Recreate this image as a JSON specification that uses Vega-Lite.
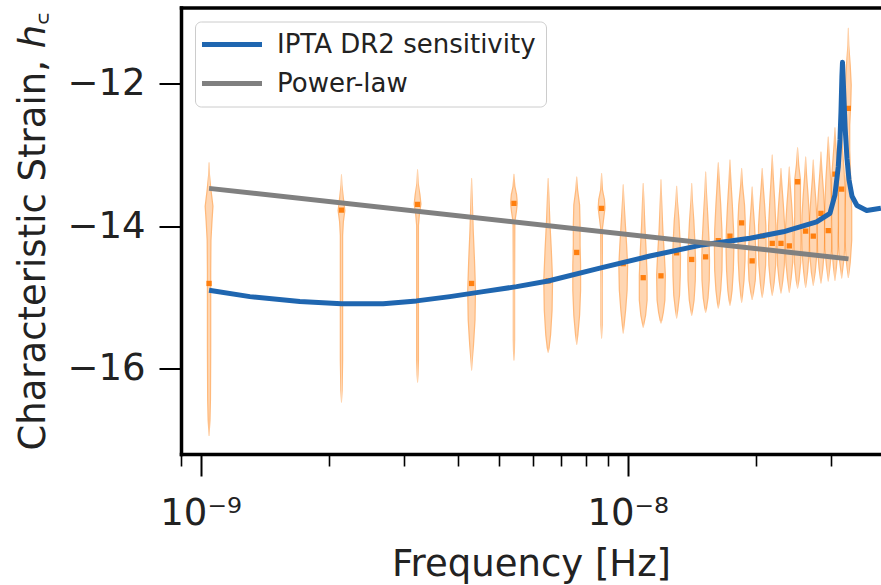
{
  "$schema": "https://vega.github.io/schema/vega-lite/v6.json",
  "width": 700,
  "height": 446.5,
  "autosize": {"type": "none"},
  "padding": {"left": 181, "top": 7.5, "right": 0, "bottom": 131},
  "background": "white",
  "config": {
    "view": {"stroke": null},
    "font": "DejaVu Sans",
    "axis": {"labelFont": "DejaVu Sans", "titleFont": "DejaVu Sans", "grid": false, "labelColor": "#222222", "titleColor": "#222222", "titleFontWeight": "normal", "tickColor": "#000000", "domainColor": "#000000"}
  },
  "datasets": {
    "violins": [
      {"i":1,"f":1.047e-9,"h":-13.11,"w":0},{"i":1,"f":1.047e-9,"h":-13.28,"w":2},{"i":1,"f":1.047e-9,"h":-13.49,"w":5},{"i":1,"f":1.047e-9,"h":-13.72,"w":9},{"i":1,"f":1.047e-9,"h":-13.94,"w":7},{"i":1,"f":1.047e-9,"h":-14.20,"w":5},{"i":1,"f":1.047e-9,"h":-14.62,"w":4.5},{"i":1,"f":1.047e-9,"h":-15.04,"w":4.5},{"i":1,"f":1.047e-9,"h":-15.74,"w":4.5},{"i":1,"f":1.047e-9,"h":-16.44,"w":4},{"i":1,"f":1.047e-9,"h":-16.73,"w":3},{"i":1,"f":1.047e-9,"h":-16.94,"w":0},
      {"i":2,"f":2.138e-9,"h":-13.28,"w":0},{"i":2,"f":2.138e-9,"h":-13.42,"w":2},{"i":2,"f":2.138e-9,"h":-13.61,"w":5},{"i":2,"f":2.138e-9,"h":-13.78,"w":8},{"i":2,"f":2.138e-9,"h":-13.94,"w":5},{"i":2,"f":2.138e-9,"h":-14.13,"w":3.5},{"i":2,"f":2.138e-9,"h":-15.04,"w":3.5},{"i":2,"f":2.138e-9,"h":-15.88,"w":3.5},{"i":2,"f":2.138e-9,"h":-16.30,"w":2.5},{"i":2,"f":2.138e-9,"h":-16.47,"w":0},
      {"i":3,"f":3.222e-9,"h":-13.21,"w":0},{"i":3,"f":3.222e-9,"h":-13.40,"w":2.5},{"i":3,"f":3.222e-9,"h":-13.56,"w":6},{"i":3,"f":3.222e-9,"h":-13.69,"w":8},{"i":3,"f":3.222e-9,"h":-13.83,"w":5},{"i":3,"f":3.222e-9,"h":-13.99,"w":3},{"i":3,"f":3.222e-9,"h":-15.04,"w":3},{"i":3,"f":3.222e-9,"h":-15.88,"w":3},{"i":3,"f":3.222e-9,"h":-16.09,"w":2},{"i":3,"f":3.222e-9,"h":-16.19,"w":0},
      {"i":4,"f":4.312e-9,"h":-13.33,"w":0},{"i":4,"f":4.312e-9,"h":-13.63,"w":2.5},{"i":4,"f":4.312e-9,"h":-14.06,"w":4.5},{"i":4,"f":4.312e-9,"h":-14.48,"w":7},{"i":4,"f":4.312e-9,"h":-14.90,"w":9},{"i":4,"f":4.312e-9,"h":-15.32,"w":8},{"i":4,"f":4.312e-9,"h":-15.67,"w":5},{"i":4,"f":4.312e-9,"h":-15.88,"w":2.5},{"i":4,"f":4.312e-9,"h":-16.02,"w":0},
      {"i":5,"f":5.418e-9,"h":-13.27,"w":0},{"i":5,"f":5.418e-9,"h":-13.44,"w":3},{"i":5,"f":5.418e-9,"h":-13.56,"w":6.5},{"i":5,"f":5.418e-9,"h":-13.68,"w":8},{"i":5,"f":5.418e-9,"h":-13.80,"w":6},{"i":5,"f":5.418e-9,"h":-13.94,"w":3},{"i":5,"f":5.418e-9,"h":-14.76,"w":2.5},{"i":5,"f":5.418e-9,"h":-15.60,"w":2.5},{"i":5,"f":5.418e-9,"h":-15.77,"w":2},{"i":5,"f":5.418e-9,"h":-15.88,"w":0},
      {"i":6,"f":6.516e-9,"h":-13.33,"w":0},{"i":6,"f":6.516e-9,"h":-13.56,"w":2.5},{"i":6,"f":6.516e-9,"h":-13.92,"w":4.5},{"i":6,"f":6.516e-9,"h":-14.34,"w":7.5},{"i":6,"f":6.516e-9,"h":-14.76,"w":10},{"i":6,"f":6.516e-9,"h":-15.18,"w":9},{"i":6,"f":6.516e-9,"h":-15.53,"w":6},{"i":6,"f":6.516e-9,"h":-15.71,"w":3},{"i":6,"f":6.516e-9,"h":-15.77,"w":0},
      {"i":7,"f":7.599e-9,"h":-13.31,"w":0},{"i":7,"f":7.599e-9,"h":-13.49,"w":3},{"i":7,"f":7.599e-9,"h":-13.70,"w":7},{"i":7,"f":7.599e-9,"h":-13.99,"w":8},{"i":7,"f":7.599e-9,"h":-14.27,"w":8},{"i":7,"f":7.599e-9,"h":-14.55,"w":9},{"i":7,"f":7.599e-9,"h":-14.90,"w":9},{"i":7,"f":7.599e-9,"h":-15.25,"w":7},{"i":7,"f":7.599e-9,"h":-15.53,"w":3.5},{"i":7,"f":7.599e-9,"h":-15.66,"w":0},
      {"i":8,"f":8.69e-9,"h":-13.26,"w":0},{"i":8,"f":8.69e-9,"h":-13.49,"w":3},{"i":8,"f":8.69e-9,"h":-13.63,"w":7},{"i":8,"f":8.69e-9,"h":-13.75,"w":8},{"i":8,"f":8.69e-9,"h":-13.86,"w":6},{"i":8,"f":8.69e-9,"h":-14.03,"w":3},{"i":8,"f":8.69e-9,"h":-14.90,"w":2.5},{"i":8,"f":8.69e-9,"h":-15.39,"w":2.5},{"i":8,"f":8.69e-9,"h":-15.57,"w":0},
      {"i":9,"f":9.766e-9,"h":-13.42,"w":0},{"i":9,"f":9.766e-9,"h":-13.63,"w":2.5},{"i":9,"f":9.766e-9,"h":-13.92,"w":5},{"i":9,"f":9.766e-9,"h":-14.27,"w":8},{"i":9,"f":9.766e-9,"h":-14.55,"w":10},{"i":9,"f":9.766e-9,"h":-14.90,"w":9},{"i":9,"f":9.766e-9,"h":-15.18,"w":6},{"i":9,"f":9.766e-9,"h":-15.39,"w":3},{"i":9,"f":9.766e-9,"h":-15.50,"w":0},
      {"i":10,"f":1.0877e-8,"h":-13.40,"w":0},{"i":10,"f":1.0877e-8,"h":-13.63,"w":2.5},{"i":10,"f":1.0877e-8,"h":-13.99,"w":4.5},{"i":10,"f":1.0877e-8,"h":-14.34,"w":7},{"i":10,"f":1.0877e-8,"h":-14.69,"w":9},{"i":10,"f":1.0877e-8,"h":-15.04,"w":9},{"i":10,"f":1.0877e-8,"h":-15.25,"w":6},{"i":10,"f":1.0877e-8,"h":-15.36,"w":3},{"i":10,"f":1.0877e-8,"h":-15.42,"w":0},
      {"i":11,"f":1.197e-8,"h":-13.35,"w":0},{"i":11,"f":1.197e-8,"h":-13.63,"w":2.5},{"i":11,"f":1.197e-8,"h":-14.06,"w":5},{"i":11,"f":1.197e-8,"h":-14.41,"w":8},{"i":11,"f":1.197e-8,"h":-14.69,"w":10},{"i":11,"f":1.197e-8,"h":-15.04,"w":9},{"i":11,"f":1.197e-8,"h":-15.21,"w":6},{"i":11,"f":1.197e-8,"h":-15.32,"w":3},{"i":11,"f":1.197e-8,"h":-15.36,"w":0},
      {"i":12,"f":1.3024e-8,"h":-13.44,"w":0},{"i":12,"f":1.3024e-8,"h":-13.63,"w":2.5},{"i":12,"f":1.3024e-8,"h":-13.92,"w":6},{"i":12,"f":1.3024e-8,"h":-14.20,"w":8},{"i":12,"f":1.3024e-8,"h":-14.41,"w":9},{"i":12,"f":1.3024e-8,"h":-14.69,"w":8.5},{"i":12,"f":1.3024e-8,"h":-14.97,"w":7},{"i":12,"f":1.3024e-8,"h":-15.18,"w":3.5},{"i":12,"f":1.3024e-8,"h":-15.29,"w":0},
      {"i":13,"f":1.4125e-8,"h":-13.40,"w":0},{"i":13,"f":1.4125e-8,"h":-13.63,"w":2.5},{"i":13,"f":1.4125e-8,"h":-13.92,"w":5.5},{"i":13,"f":1.4125e-8,"h":-14.20,"w":7.5},{"i":13,"f":1.4125e-8,"h":-14.48,"w":9},{"i":13,"f":1.4125e-8,"h":-14.76,"w":8.5},{"i":13,"f":1.4125e-8,"h":-15.04,"w":6},{"i":13,"f":1.4125e-8,"h":-15.18,"w":3},{"i":13,"f":1.4125e-8,"h":-15.25,"w":0},
      {"i":14,"f":1.5229e-8,"h":-13.24,"w":0},{"i":14,"f":1.5229e-8,"h":-13.49,"w":2.5},{"i":14,"f":1.5229e-8,"h":-13.85,"w":5.5},{"i":14,"f":1.5229e-8,"h":-14.20,"w":8},{"i":14,"f":1.5229e-8,"h":-14.48,"w":9},{"i":14,"f":1.5229e-8,"h":-14.76,"w":8.5},{"i":14,"f":1.5229e-8,"h":-15.01,"w":6},{"i":14,"f":1.5229e-8,"h":-15.15,"w":3},{"i":14,"f":1.5229e-8,"h":-15.21,"w":0},
      {"i":15,"f":1.6306e-8,"h":-13.11,"w":0},{"i":15,"f":1.6306e-8,"h":-13.35,"w":3},{"i":15,"f":1.6306e-8,"h":-13.70,"w":6},{"i":15,"f":1.6306e-8,"h":-14.06,"w":8.5},{"i":15,"f":1.6306e-8,"h":-14.34,"w":9},{"i":15,"f":1.6306e-8,"h":-14.62,"w":8.5},{"i":15,"f":1.6306e-8,"h":-14.90,"w":6},{"i":15,"f":1.6306e-8,"h":-15.08,"w":3},{"i":15,"f":1.6306e-8,"h":-15.15,"w":0},
      {"i":16,"f":1.7362e-8,"h":-13.07,"w":0},{"i":16,"f":1.7362e-8,"h":-13.35,"w":3},{"i":16,"f":1.7362e-8,"h":-13.70,"w":6},{"i":16,"f":1.7362e-8,"h":-14.06,"w":8.5},{"i":16,"f":1.7362e-8,"h":-14.34,"w":9},{"i":16,"f":1.7362e-8,"h":-14.62,"w":8},{"i":16,"f":1.7362e-8,"h":-14.90,"w":5.5},{"i":16,"f":1.7362e-8,"h":-15.04,"w":3},{"i":16,"f":1.7362e-8,"h":-15.11,"w":0},
      {"i":17,"f":1.849e-8,"h":-13.19,"w":0},{"i":17,"f":1.849e-8,"h":-13.42,"w":3},{"i":17,"f":1.849e-8,"h":-13.70,"w":7},{"i":17,"f":1.849e-8,"h":-13.94,"w":8.5},{"i":17,"f":1.849e-8,"h":-14.20,"w":8.5},{"i":17,"f":1.849e-8,"h":-14.48,"w":8},{"i":17,"f":1.849e-8,"h":-14.76,"w":6},{"i":17,"f":1.849e-8,"h":-14.97,"w":3},{"i":17,"f":1.849e-8,"h":-15.07,"w":0},
      {"i":18,"f":1.957e-8,"h":-13.45,"w":0},{"i":18,"f":1.957e-8,"h":-13.70,"w":3},{"i":18,"f":1.957e-8,"h":-13.99,"w":6},{"i":18,"f":1.957e-8,"h":-14.27,"w":8},{"i":18,"f":1.957e-8,"h":-14.51,"w":9},{"i":18,"f":1.957e-8,"h":-14.76,"w":7.5},{"i":18,"f":1.957e-8,"h":-14.93,"w":4},{"i":18,"f":1.957e-8,"h":-15.03,"w":0},
      {"i":19,"f":2.066e-8,"h":-13.19,"w":0},{"i":19,"f":2.066e-8,"h":-13.42,"w":3},{"i":19,"f":2.066e-8,"h":-13.70,"w":6},{"i":19,"f":2.066e-8,"h":-13.99,"w":8.5},{"i":19,"f":2.066e-8,"h":-14.27,"w":9},{"i":19,"f":2.066e-8,"h":-14.55,"w":8},{"i":19,"f":2.066e-8,"h":-14.80,"w":5},{"i":19,"f":2.066e-8,"h":-14.94,"w":2.5},{"i":19,"f":2.066e-8,"h":-15.00,"w":0},
      {"i":20,"f":2.181e-8,"h":-13.00,"w":0},{"i":20,"f":2.181e-8,"h":-13.28,"w":3},{"i":20,"f":2.181e-8,"h":-13.63,"w":6},{"i":20,"f":2.181e-8,"h":-13.99,"w":8.5},{"i":20,"f":2.181e-8,"h":-14.27,"w":9},{"i":20,"f":2.181e-8,"h":-14.55,"w":8},{"i":20,"f":2.181e-8,"h":-14.79,"w":5},{"i":20,"f":2.181e-8,"h":-14.91,"w":2.5},{"i":20,"f":2.181e-8,"h":-14.97,"w":0},
      {"i":21,"f":2.286e-8,"h":-13.19,"w":0},{"i":21,"f":2.286e-8,"h":-13.42,"w":3},{"i":21,"f":2.286e-8,"h":-13.70,"w":6},{"i":21,"f":2.286e-8,"h":-13.99,"w":8.5},{"i":21,"f":2.286e-8,"h":-14.27,"w":9},{"i":21,"f":2.286e-8,"h":-14.55,"w":8},{"i":21,"f":2.286e-8,"h":-14.76,"w":5},{"i":21,"f":2.286e-8,"h":-14.88,"w":2.5},{"i":21,"f":2.286e-8,"h":-14.94,"w":0},
      {"i":22,"f":2.391e-8,"h":-13.17,"w":0},{"i":22,"f":2.391e-8,"h":-13.42,"w":3},{"i":22,"f":2.391e-8,"h":-13.70,"w":6},{"i":22,"f":2.391e-8,"h":-13.99,"w":8.5},{"i":22,"f":2.391e-8,"h":-14.27,"w":9},{"i":22,"f":2.391e-8,"h":-14.51,"w":8},{"i":22,"f":2.391e-8,"h":-14.73,"w":5},{"i":22,"f":2.391e-8,"h":-14.86,"w":2.5},{"i":22,"f":2.391e-8,"h":-14.93,"w":0},
      {"i":23,"f":2.5e-8,"h":-12.90,"w":0},{"i":23,"f":2.5e-8,"h":-13.14,"w":3.5},{"i":23,"f":2.5e-8,"h":-13.35,"w":7},{"i":23,"f":2.5e-8,"h":-13.56,"w":7},{"i":23,"f":2.5e-8,"h":-13.85,"w":7},{"i":23,"f":2.5e-8,"h":-14.20,"w":8},{"i":23,"f":2.5e-8,"h":-14.51,"w":7.5},{"i":23,"f":2.5e-8,"h":-14.76,"w":4},{"i":23,"f":2.5e-8,"h":-14.87,"w":0},
      {"i":24,"f":2.611e-8,"h":-13.03,"w":0},{"i":24,"f":2.611e-8,"h":-13.28,"w":3},{"i":24,"f":2.611e-8,"h":-13.56,"w":6},{"i":24,"f":2.611e-8,"h":-13.85,"w":8.5},{"i":24,"f":2.611e-8,"h":-14.13,"w":9},{"i":24,"f":2.611e-8,"h":-14.41,"w":8},{"i":24,"f":2.611e-8,"h":-14.65,"w":5},{"i":24,"f":2.611e-8,"h":-14.79,"w":2.5},{"i":24,"f":2.611e-8,"h":-14.86,"w":0},
      {"i":25,"f":2.721e-8,"h":-13.07,"w":0},{"i":25,"f":2.721e-8,"h":-13.33,"w":3},{"i":25,"f":2.721e-8,"h":-13.61,"w":6},{"i":25,"f":2.721e-8,"h":-13.89,"w":8.5},{"i":25,"f":2.721e-8,"h":-14.17,"w":9},{"i":25,"f":2.721e-8,"h":-14.42,"w":8},{"i":25,"f":2.721e-8,"h":-14.65,"w":5},{"i":25,"f":2.721e-8,"h":-14.76,"w":2.5},{"i":25,"f":2.721e-8,"h":-14.83,"w":0},
      {"i":26,"f":2.836e-8,"h":-12.96,"w":0},{"i":26,"f":2.836e-8,"h":-13.21,"w":3},{"i":26,"f":2.836e-8,"h":-13.49,"w":6},{"i":26,"f":2.836e-8,"h":-13.78,"w":8.5},{"i":26,"f":2.836e-8,"h":-14.06,"w":9},{"i":26,"f":2.836e-8,"h":-14.34,"w":8},{"i":26,"f":2.836e-8,"h":-14.59,"w":5},{"i":26,"f":2.836e-8,"h":-14.73,"w":2.5},{"i":26,"f":2.836e-8,"h":-14.80,"w":0},
      {"i":27,"f":2.95e-8,"h":-12.75,"w":0},{"i":27,"f":2.95e-8,"h":-13.00,"w":3},{"i":27,"f":2.95e-8,"h":-13.35,"w":6},{"i":27,"f":2.95e-8,"h":-13.70,"w":8},{"i":27,"f":2.95e-8,"h":-14.03,"w":9},{"i":27,"f":2.95e-8,"h":-14.31,"w":8},{"i":27,"f":2.95e-8,"h":-14.55,"w":5},{"i":27,"f":2.95e-8,"h":-14.69,"w":2.5},{"i":27,"f":2.95e-8,"h":-14.77,"w":0},
      {"i":28,"f":3.058e-8,"h":-12.62,"w":0},{"i":28,"f":3.058e-8,"h":-12.86,"w":3},{"i":28,"f":3.058e-8,"h":-13.14,"w":6},{"i":28,"f":3.058e-8,"h":-13.35,"w":8},{"i":28,"f":3.058e-8,"h":-13.63,"w":8.5},{"i":28,"f":3.058e-8,"h":-13.99,"w":8.5},{"i":28,"f":3.058e-8,"h":-14.34,"w":7},{"i":28,"f":3.058e-8,"h":-14.59,"w":4},{"i":28,"f":3.058e-8,"h":-14.76,"w":0},
      {"i":29,"f":3.171e-8,"h":-12.65,"w":0},{"i":29,"f":3.171e-8,"h":-12.93,"w":3},{"i":29,"f":3.171e-8,"h":-13.21,"w":6},{"i":29,"f":3.171e-8,"h":-13.49,"w":8},{"i":29,"f":3.171e-8,"h":-13.85,"w":8.5},{"i":29,"f":3.171e-8,"h":-14.20,"w":8},{"i":29,"f":3.171e-8,"h":-14.45,"w":6},{"i":29,"f":3.171e-8,"h":-14.62,"w":3},{"i":29,"f":3.171e-8,"h":-14.73,"w":0},
      {"i":30,"f":3.287e-8,"h":-11.22,"w":0},{"i":30,"f":3.287e-8,"h":-11.46,"w":2},{"i":30,"f":3.287e-8,"h":-11.74,"w":5},{"i":30,"f":3.287e-8,"h":-12.02,"w":7},{"i":30,"f":3.287e-8,"h":-12.30,"w":6},{"i":30,"f":3.287e-8,"h":-12.58,"w":4},{"i":30,"f":3.287e-8,"h":-12.93,"w":4},{"i":30,"f":3.287e-8,"h":-13.35,"w":6},{"i":30,"f":3.287e-8,"h":-13.78,"w":8},{"i":30,"f":3.287e-8,"h":-14.20,"w":8},{"i":30,"f":3.287e-8,"h":-14.51,"w":5},{"i":30,"f":3.287e-8,"h":-14.65,"w":2.5},{"i":30,"f":3.287e-8,"h":-14.72,"w":0}
    ],
    "medians": [
      {"f":1.047e-9,"h":-14.805},{"f":2.138e-9,"h":-13.775},{"f":3.222e-9,"h":-13.695},{"f":4.312e-9,"h":-14.805},{"f":5.418e-9,"h":-13.681},
      {"f":6.516e-9,"h":-14.769},{"f":7.599e-9,"h":-14.370},{"f":8.69e-9,"h":-13.751},{"f":9.766e-9,"h":-14.527},{"f":1.0877e-8,"h":-14.724},
      {"f":1.197e-8,"h":-14.698},{"f":1.3024e-8,"h":-14.375},{"f":1.4125e-8,"h":-14.468},{"f":1.5229e-8,"h":-14.431},{"f":1.6306e-8,"h":-14.204},
      {"f":1.7362e-8,"h":-14.141},{"f":1.849e-8,"h":-13.954},{"f":1.957e-8,"h":-14.488},{"f":2.066e-8,"h":-14.141},{"f":2.181e-8,"h":-14.243},
      {"f":2.286e-8,"h":-14.243},{"f":2.391e-8,"h":-14.277},{"f":2.5e-8,"h":-13.377},{"f":2.611e-8,"h":-14.070},{"f":2.721e-8,"h":-14.141},
      {"f":2.836e-8,"h":-13.822},{"f":2.95e-8,"h":-14.063},{"f":3.058e-8,"h":-13.269},{"f":3.171e-8,"h":-13.480},{"f":3.287e-8,"h":-12.346}
    ],
    "lines": [
      {"series":"IPTA DR2 sensitivity","f":1.047e-9,"h":-14.90},
      {"series":"IPTA DR2 sensitivity","f":1.305e-9,"h":-14.99},
      {"series":"IPTA DR2 sensitivity","f":1.708e-9,"h":-15.06},
      {"series":"IPTA DR2 sensitivity","f":2.138e-9,"h":-15.09},
      {"series":"IPTA DR2 sensitivity","f":2.677e-9,"h":-15.09},
      {"series":"IPTA DR2 sensitivity","f":3.205e-9,"h":-15.05},
      {"series":"IPTA DR2 sensitivity","f":3.835e-9,"h":-14.99},
      {"series":"IPTA DR2 sensitivity","f":4.59e-9,"h":-14.92},
      {"series":"IPTA DR2 sensitivity","f":5.495e-9,"h":-14.85},
      {"series":"IPTA DR2 sensitivity","f":6.516e-9,"h":-14.77},
      {"series":"IPTA DR2 sensitivity","f":8.61e-9,"h":-14.59},
      {"series":"IPTA DR2 sensitivity","f":1.1276e-8,"h":-14.42},
      {"series":"IPTA DR2 sensitivity","f":1.4766e-8,"h":-14.27},
      {"series":"IPTA DR2 sensitivity","f":1.9337e-8,"h":-14.17},
      {"series":"IPTA DR2 sensitivity","f":2.3137e-8,"h":-14.08},
      {"series":"IPTA DR2 sensitivity","f":2.7704e-8,"h":-13.94},
      {"series":"IPTA DR2 sensitivity","f":2.977e-8,"h":-13.82},
      {"series":"IPTA DR2 sensitivity","f":3.058e-8,"h":-13.56},
      {"series":"IPTA DR2 sensitivity","f":3.113e-8,"h":-13.17},
      {"series":"IPTA DR2 sensitivity","f":3.142e-8,"h":-12.79},
      {"series":"IPTA DR2 sensitivity","f":3.159e-8,"h":-12.40},
      {"series":"IPTA DR2 sensitivity","f":3.175e-8,"h":-11.90},
      {"series":"IPTA DR2 sensitivity","f":3.185e-8,"h":-11.70},
      {"series":"IPTA DR2 sensitivity","f":3.2e-8,"h":-12.00},
      {"series":"IPTA DR2 sensitivity","f":3.229e-8,"h":-12.60},
      {"series":"IPTA DR2 sensitivity","f":3.263e-8,"h":-13.05},
      {"series":"IPTA DR2 sensitivity","f":3.299e-8,"h":-13.35},
      {"series":"IPTA DR2 sensitivity","f":3.353e-8,"h":-13.58},
      {"series":"IPTA DR2 sensitivity","f":3.444e-8,"h":-13.71},
      {"series":"IPTA DR2 sensitivity","f":3.629e-8,"h":-13.78},
      {"series":"IPTA DR2 sensitivity","f":3.918e-8,"h":-13.75},
      {"series":"Power-law","f":1.047e-9,"h":-13.47},
      {"series":"Power-law","f":3.29e-8,"h":-14.46}
    ]
  },
  "layer": [
    {
      "data": {"name": "violins"},
      "mark": {"type": "trail", "fill": "#ff7f0e", "fillOpacity": 0.55, "clip": true},
      "encoding": {
        "x": {"field": "f", "type": "quantitative", "scale": {"type": "log", "domain": [9e-10, 3.92e-8], "nice": false},
          "axis": {"orient": "bottom", "values": [1e-9, 1e-8], "labelExpr": "datum.value < 5e-9 ? '10⁻⁹' : '10⁻⁸'", "tickSize": 22, "tickWidth": 2, "domainWidth": 3.5, "domainCap": "square", "labelFontSize": 37, "labelPadding": 19, "labelFlush": false, "labelOverlap": false, "title": "Frequency [Hz]", "titleFontSize": 37, "titlePadding": 15}},
        "y": {"field": "h", "type": "quantitative", "scale": {"domain": [-17.2, -10.93], "nice": false, "zero": false},
          "axis": {"values": [-16, -14, -12], "tickSize": 22, "tickWidth": 2, "domainWidth": 3.5, "domainCap": "square", "labelFontSize": 37, "labelPadding": 14, "title": "Characteristic Strain, ℎ꜀", "titleFontSize": 37, "titlePadding": 14}},
        "size": {"field": "w", "type": "quantitative", "scale": {"domain": [0, 10], "range": [0, 10]}, "legend": null},
        "detail": {"field": "i"},
        "order": {"field": "h"}
      }
    },
    {
      "data": {"name": "violins"},
      "mark": {"type": "trail", "fill": "#ffffff", "fillOpacity": 0.42, "clip": true},
      "encoding": {
        "x": {"field": "f", "type": "quantitative", "scale": {"type": "log", "domain": [9e-10, 3.92e-8], "nice": false}, "axis": null},
        "y": {"field": "h", "type": "quantitative", "scale": {"domain": [-17.2, -10.93], "nice": false, "zero": false},
          "axis": {"values": [-16, -14, -12], "tickSize": 22, "tickWidth": 2, "domainWidth": 3.5, "domainCap": "square", "labelFontSize": 37, "labelPadding": 14, "title": "Characteristic Strain, ℎ꜀", "titleFontSize": 37, "titlePadding": 14}},
        "size": {"field": "w", "type": "quantitative", "scale": {"domain": [2.5, 12.5], "range": [0, 10], "clamp": true}, "legend": null},
        "detail": {"field": "i"},
        "order": {"field": "h"}
      }
    },
    {
      "data": {"name": "medians"},
      "mark": {"type": "point", "shape": "square", "filled": true, "size": 28, "color": "#ff7f0e", "opacity": 1, "clip": true},
      "encoding": {
        "x": {"field": "f", "type": "quantitative", "scale": {"type": "log", "domain": [9e-10, 3.92e-8], "nice": false},
          "axis": {"orient": "bottom", "values": [9e-10, 2e-9, 3e-9, 4e-9, 5e-9, 6e-9, 7e-9, 8e-9, 9e-9, 2e-8, 3e-8], "tickSize": 12, "tickWidth": 1.6, "labels": false, "domain": false, "title": null}},
        "y": {"field": "h", "type": "quantitative", "scale": {"domain": [-17.2, -10.93], "nice": false, "zero": false},
          "axis": {"values": [-16, -14, -12], "tickSize": 22, "tickWidth": 2, "domainWidth": 3.5, "domainCap": "square", "labelFontSize": 37, "labelPadding": 14, "title": "Characteristic Strain, ℎ꜀", "titleFontSize": 37, "titlePadding": 14}}
      }
    },
    {
      "data": {"name": "lines"},
      "mark": {"type": "line", "strokeWidth": 5, "strokeJoin": "round", "clip": true},
      "encoding": {
        "x": {"field": "f", "type": "quantitative", "scale": {"type": "log", "domain": [9e-10, 3.92e-8], "nice": false},
          "axis": {"orient": "top", "ticks": false, "labels": false, "title": null, "domainWidth": 3.5, "domainCap": "square"}},
        "y": {"field": "h", "type": "quantitative", "scale": {"domain": [-17.2, -10.93], "nice": false, "zero": false},
          "axis": {"values": [-16, -14, -12], "tickSize": 22, "tickWidth": 2, "domainWidth": 3.5, "domainCap": "square", "labelFontSize": 37, "labelPadding": 14, "title": "Characteristic Strain, ℎ꜀", "titleFontSize": 37, "titlePadding": 14}},
        "color": {"field": "series", "type": "nominal",
          "scale": {"domain": ["IPTA DR2 sensitivity", "Power-law"], "range": ["#1f66b0", "#808080"]},
          "legend": {"title": null, "orient": "top-left", "offset": 14, "symbolType": "M-5,0H5", "symbolSize": 144, "symbolStrokeWidth": 5, "symbolOffset": 14, "labelFontSize": 26, "labelFont": "DejaVu Sans", "labelColor": "#222222", "labelOffset": 32, "labelLimit": 0, "padding": 10, "rowPadding": 13, "fillColor": "rgba(255,255,255,0.85)", "strokeColor": "#cccccc", "cornerRadius": 6}}
      }
    }
  ],
  "resolve": {"axis": {"x": "independent", "y": "shared"}, "scale": {"size": "independent"}}
}
